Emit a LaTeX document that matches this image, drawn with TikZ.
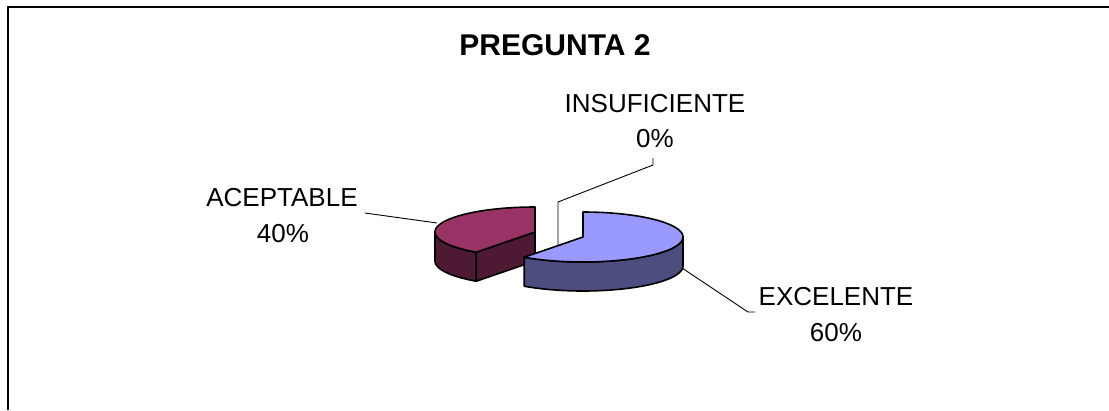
\documentclass[tikz,border=0pt]{standalone}
\usepackage{fontspec}
\setmainfont{Liberation Sans}
\definecolor{acepTop}{HTML}{993366}
\definecolor{acepSide}{HTML}{4D1933}
\definecolor{exceTop}{HTML}{9999FF}
\definecolor{exceSide}{HTML}{4D4D80}
\begin{document}
\begin{tikzpicture}[x=1pt,y=-1pt,
  outl/.style={draw=black,line width=1.6pt,line join=round},
  leader/.style={draw=black,line width=0.9pt},
  lbl/.style={font=\fontsize{26}{31}\selectfont,anchor=base,inner sep=0pt},
  ttl/.style={font=\fontsize{30}{36}\selectfont\bfseries,anchor=base,inner sep=0pt}]
\useasboundingbox (0,0) rectangle (1109,410);
% frame
\draw[line width=1.5pt] (8,410) -- (8,7) -- (1109,7);
% title
\node[ttl] (title) at (555,55) {PREGUNTA 2};
% labels
\node[lbl] (acep1) at (282,206) {ACEPTABLE};
\node[lbl] (acep2) at (283,242) {40\%};
\node[lbl] (insu1) at (655,112) {INSUFICIENTE};
\node[lbl] (insu2) at (655,147) {0\%};
\node[lbl] (exce1) at (836,305) {EXCELENTE};
\node[lbl] (exce2) at (836,341) {60\%};
% leader lines
\coordinate (aL) at (365,213);
\coordinate (aE) at (437,223);
\coordinate (iL) at (653,158);
\coordinate (iK) at (653,165);
\coordinate (iB) at (558,202);
\coordinate (iE) at (558,248);
\coordinate (eS) at (682,268);
\coordinate (eK) at (748,312);
\coordinate (eL) at (755,312);
\draw[leader] (aL) -- (aE);
\draw[leader] (iL) -- (iK) -- (iB) -- (iE);
\draw[leader] (eS) -- (eK) -- (eL);
% ACEPTABLE slice (40%)
\draw[outl,fill=acepSide] plot[domain=180:234,samples=40] ({535+100*cos(\x)},{232-25*sin(\x)})
  -- plot[domain=234:180,samples=40] ({535+100*cos(\x)},{261-25*sin(\x)}) -- cycle;
\draw[outl,fill=acepSide] (535,232) -- ({535+100*cos(234)},{232-25*sin(234)})
  -- ({535+100*cos(234)},{261-25*sin(234)}) -- (535,261) -- cycle;
\draw[outl,fill=acepTop] (535,232) -- (535,207)
  -- plot[domain=90:234,samples=80] ({535+100*cos(\x)},{232-25*sin(\x)}) -- cycle;
% EXCELENTE slice (60%)
\draw[outl,fill=exceSide] plot[domain=0:-126,samples=60] ({583+100*cos(\x)},{237-25*sin(\x)})
  -- plot[domain=-126:0,samples=60] ({583+100*cos(\x)},{266-25*sin(\x)}) -- cycle;
\draw[outl,fill=exceTop] (583,237) -- (583,212)
  -- plot[domain=90:-126,samples=100] ({583+100*cos(\x)},{237-25*sin(\x)}) -- cycle;
\end{tikzpicture}
\end{document}
